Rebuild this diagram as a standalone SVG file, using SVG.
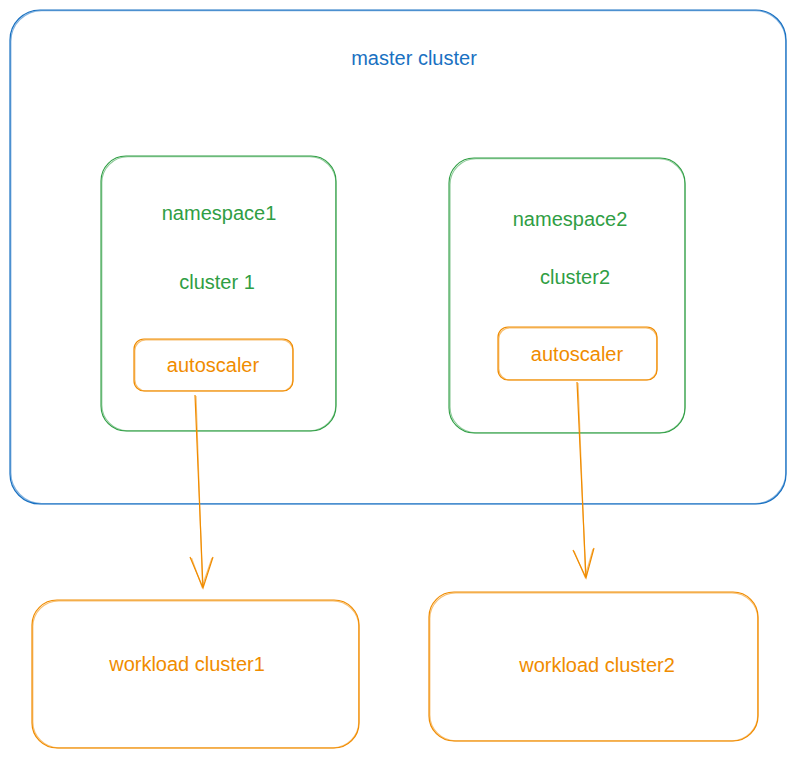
<svg xmlns="http://www.w3.org/2000/svg" width="796" height="759" viewBox="0 0 796 759">
<style>
.t{font-family:"Liberation Sans",Arial,sans-serif;font-size:20px;text-anchor:middle}
.blue{stroke:#1971c2;fill:none;stroke-width:1.2}
.green{stroke:#2f9e44;fill:none;stroke-width:1.1}
.orange{stroke:#f08c00;fill:none;stroke-width:1.2}
.ghost{opacity:0.55}
</style>
<rect width="796" height="759" fill="#ffffff"/>
<g id="master">
<rect class="blue" x="10" y="10" width="776" height="494" rx="30"/>
<rect class="blue ghost" x="10.8" y="10.6" width="775" height="493" rx="31"/>
<text class="t" x="414" y="65" fill="#1971c2">master cluster</text>
</g>
<g id="namespace1">
<rect class="green" x="101" y="156" width="235" height="275" rx="25"/>
<rect class="green ghost" x="101.8" y="156.8" width="234" height="274" rx="26"/>
<text class="t" x="219" y="220" fill="#2f9e44">namespace1</text>
<text class="t" x="217" y="289" fill="#2f9e44">cluster 1</text>
</g>
<g id="namespace2">
<rect class="green" x="449" y="158" width="236" height="275" rx="25"/>
<rect class="green ghost" x="450" y="158.8" width="235" height="274" rx="26"/>
<text class="t" x="570" y="226" fill="#2f9e44">namespace2</text>
<text class="t" x="575" y="284" fill="#2f9e44">cluster2</text>
</g>
<g id="autoscaler1">
<rect class="orange" x="134" y="339" width="159" height="52" rx="10"/>
<rect class="orange ghost" x="134.8" y="339.8" width="158" height="51" rx="11"/>
<text class="t" x="213" y="372" fill="#f08c00">autoscaler</text>
</g>
<g id="autoscaler2">
<rect class="orange" x="498" y="327" width="159" height="53" rx="10"/>
<rect class="orange ghost" x="498.8" y="327.8" width="158" height="52" rx="11"/>
<text class="t" x="577" y="361" fill="#f08c00">autoscaler</text>
</g>
<g id="workload1">
<rect class="orange" x="32" y="600" width="327" height="148" rx="25"/>
<rect class="orange ghost" x="32.8" y="600.8" width="326" height="147" rx="26"/>
<text class="t" x="187" y="671" fill="#f08c00">workload cluster1</text>
</g>
<g id="workload2">
<rect class="orange" x="429" y="592" width="329" height="149" rx="25"/>
<rect class="orange ghost" x="429.8" y="592.8" width="328" height="148" rx="26"/>
<text class="t" x="597" y="672" fill="#f08c00">workload cluster2</text>
</g>
<g id="connectors">
<path class="orange" d="M195 395 L203 588 M190 557 L203 588 L213 557"/>
<path class="orange ghost" d="M196 396 L202.5 586 M191.5 558 L202 587 L212 558"/>
<path class="orange" d="M577 382 L586 578 M573 550 L586 578 L594 548"/>
<path class="orange ghost" d="M578 383 L585.5 576 M574 551 L585 577 L593 549"/>
</g>
</svg>
